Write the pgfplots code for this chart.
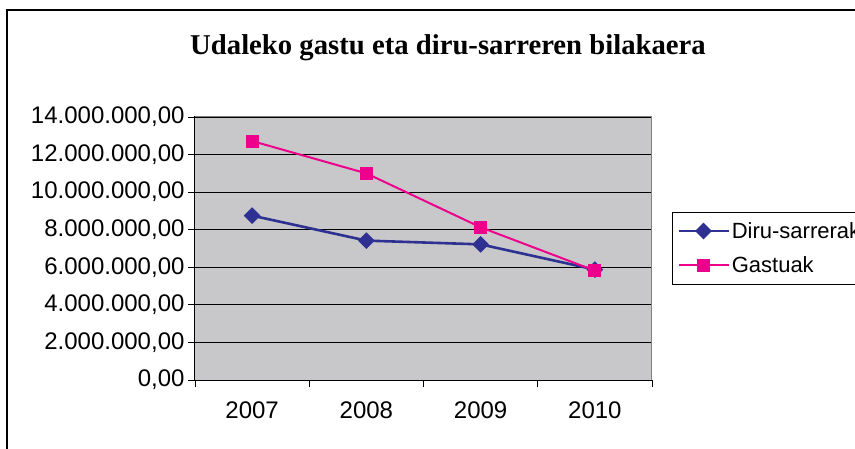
\documentclass[border=0pt]{standalone}
\usepackage{pgfplots}
\pgfplotsset{compat=1.18}
\usepackage{fontspec}
\setmainfont{Liberation Sans}
\newfontfamily\titlefont{Liberation Serif}
\definecolor{bg}{RGB}{200,200,202}
\definecolor{navy}{RGB}{46,49,146}
\definecolor{pinkc}{RGB}{236,0,140}
\begin{document}
\begin{tikzpicture}[x=1pt,y=1pt]
\useasboundingbox (0,0) rectangle (855,448);
\clip (0,0) rectangle (855,448);
\fill[white] (0,0) rectangle (855,448);
\draw[line width=2.2pt] (7,-20) -- (7,438) -- (880,438);
\node[font=\titlefont\bfseries\fontsize{28.7}{32}\selectfont] at (448,400) {Udaleko gastu eta diru-sarreren bilakaera};
\begin{axis}[
 at={(195pt,68pt)}, anchor=south west,
 scale only axis, width=457pt, height=263pt,
 xmin=-0.5, xmax=3.5, ymin=0, ymax=14000000,
 xtick={-0.5,0.5,1.5,2.5,3.5}, xticklabels={},
 extra x ticks={0,1,2,3},
 extra x tick labels={2007,2008,2009,2010},
 extra x tick style={major tick length=0pt},
 ytick={0,2000000,4000000,6000000,8000000,10000000,12000000,14000000},
 scaled y ticks=false,
 yticklabel style={/pgf/number format/.cd, fixed, fixed zerofill, precision=2, use comma, 1000 sep={.}, assume math mode=true},
 tick label style={font=\fontsize{24}{27}\selectfont},
 xticklabel style={yshift=-18pt},
 tick align=outside, major tick length=7pt,
 tick style={black, line width=0.8pt},
 xtick pos=bottom, ytick pos=left,
 axis background/.style={fill=bg},
 ymajorgrids, grid style={black, line width=0.8pt},
 axis line style={black, line width=1pt},
 legend style={at={(1.0438,0.6388)}, anchor=north west, draw=black, fill=white,
   font=\fontsize{22}{24}\selectfont, inner xsep=5pt, inner ysep=8pt, row sep=13pt},
 legend cell align=left,
 legend image code/.code={\draw[mark repeat=2,mark phase=2,#1] plot coordinates {(0pt,0pt) (25pt,0pt) (50pt,0pt)};},
]
\addplot[navy, line width=2.6pt, mark=square*, mark size=4.6pt, mark options={solid, rotate=45}] coordinates {
 (0,8750000) (1,7420000) (2,7220000) (3,5880000)};
\addlegendentry{Diru-sarrerak}
\addplot[pinkc, line width=2pt, mark=square*, mark size=5.5pt, mark options={solid}] coordinates {
 (0,12720000) (1,11000000) (2,8130000) (3,5820000)};
\addlegendentry{Gastuak}
\draw[gray, line width=1pt] (rel axis cs:0,1) -- (rel axis cs:1,1) -- (rel axis cs:1,0);
\end{axis}
\end{tikzpicture}
\end{document}
